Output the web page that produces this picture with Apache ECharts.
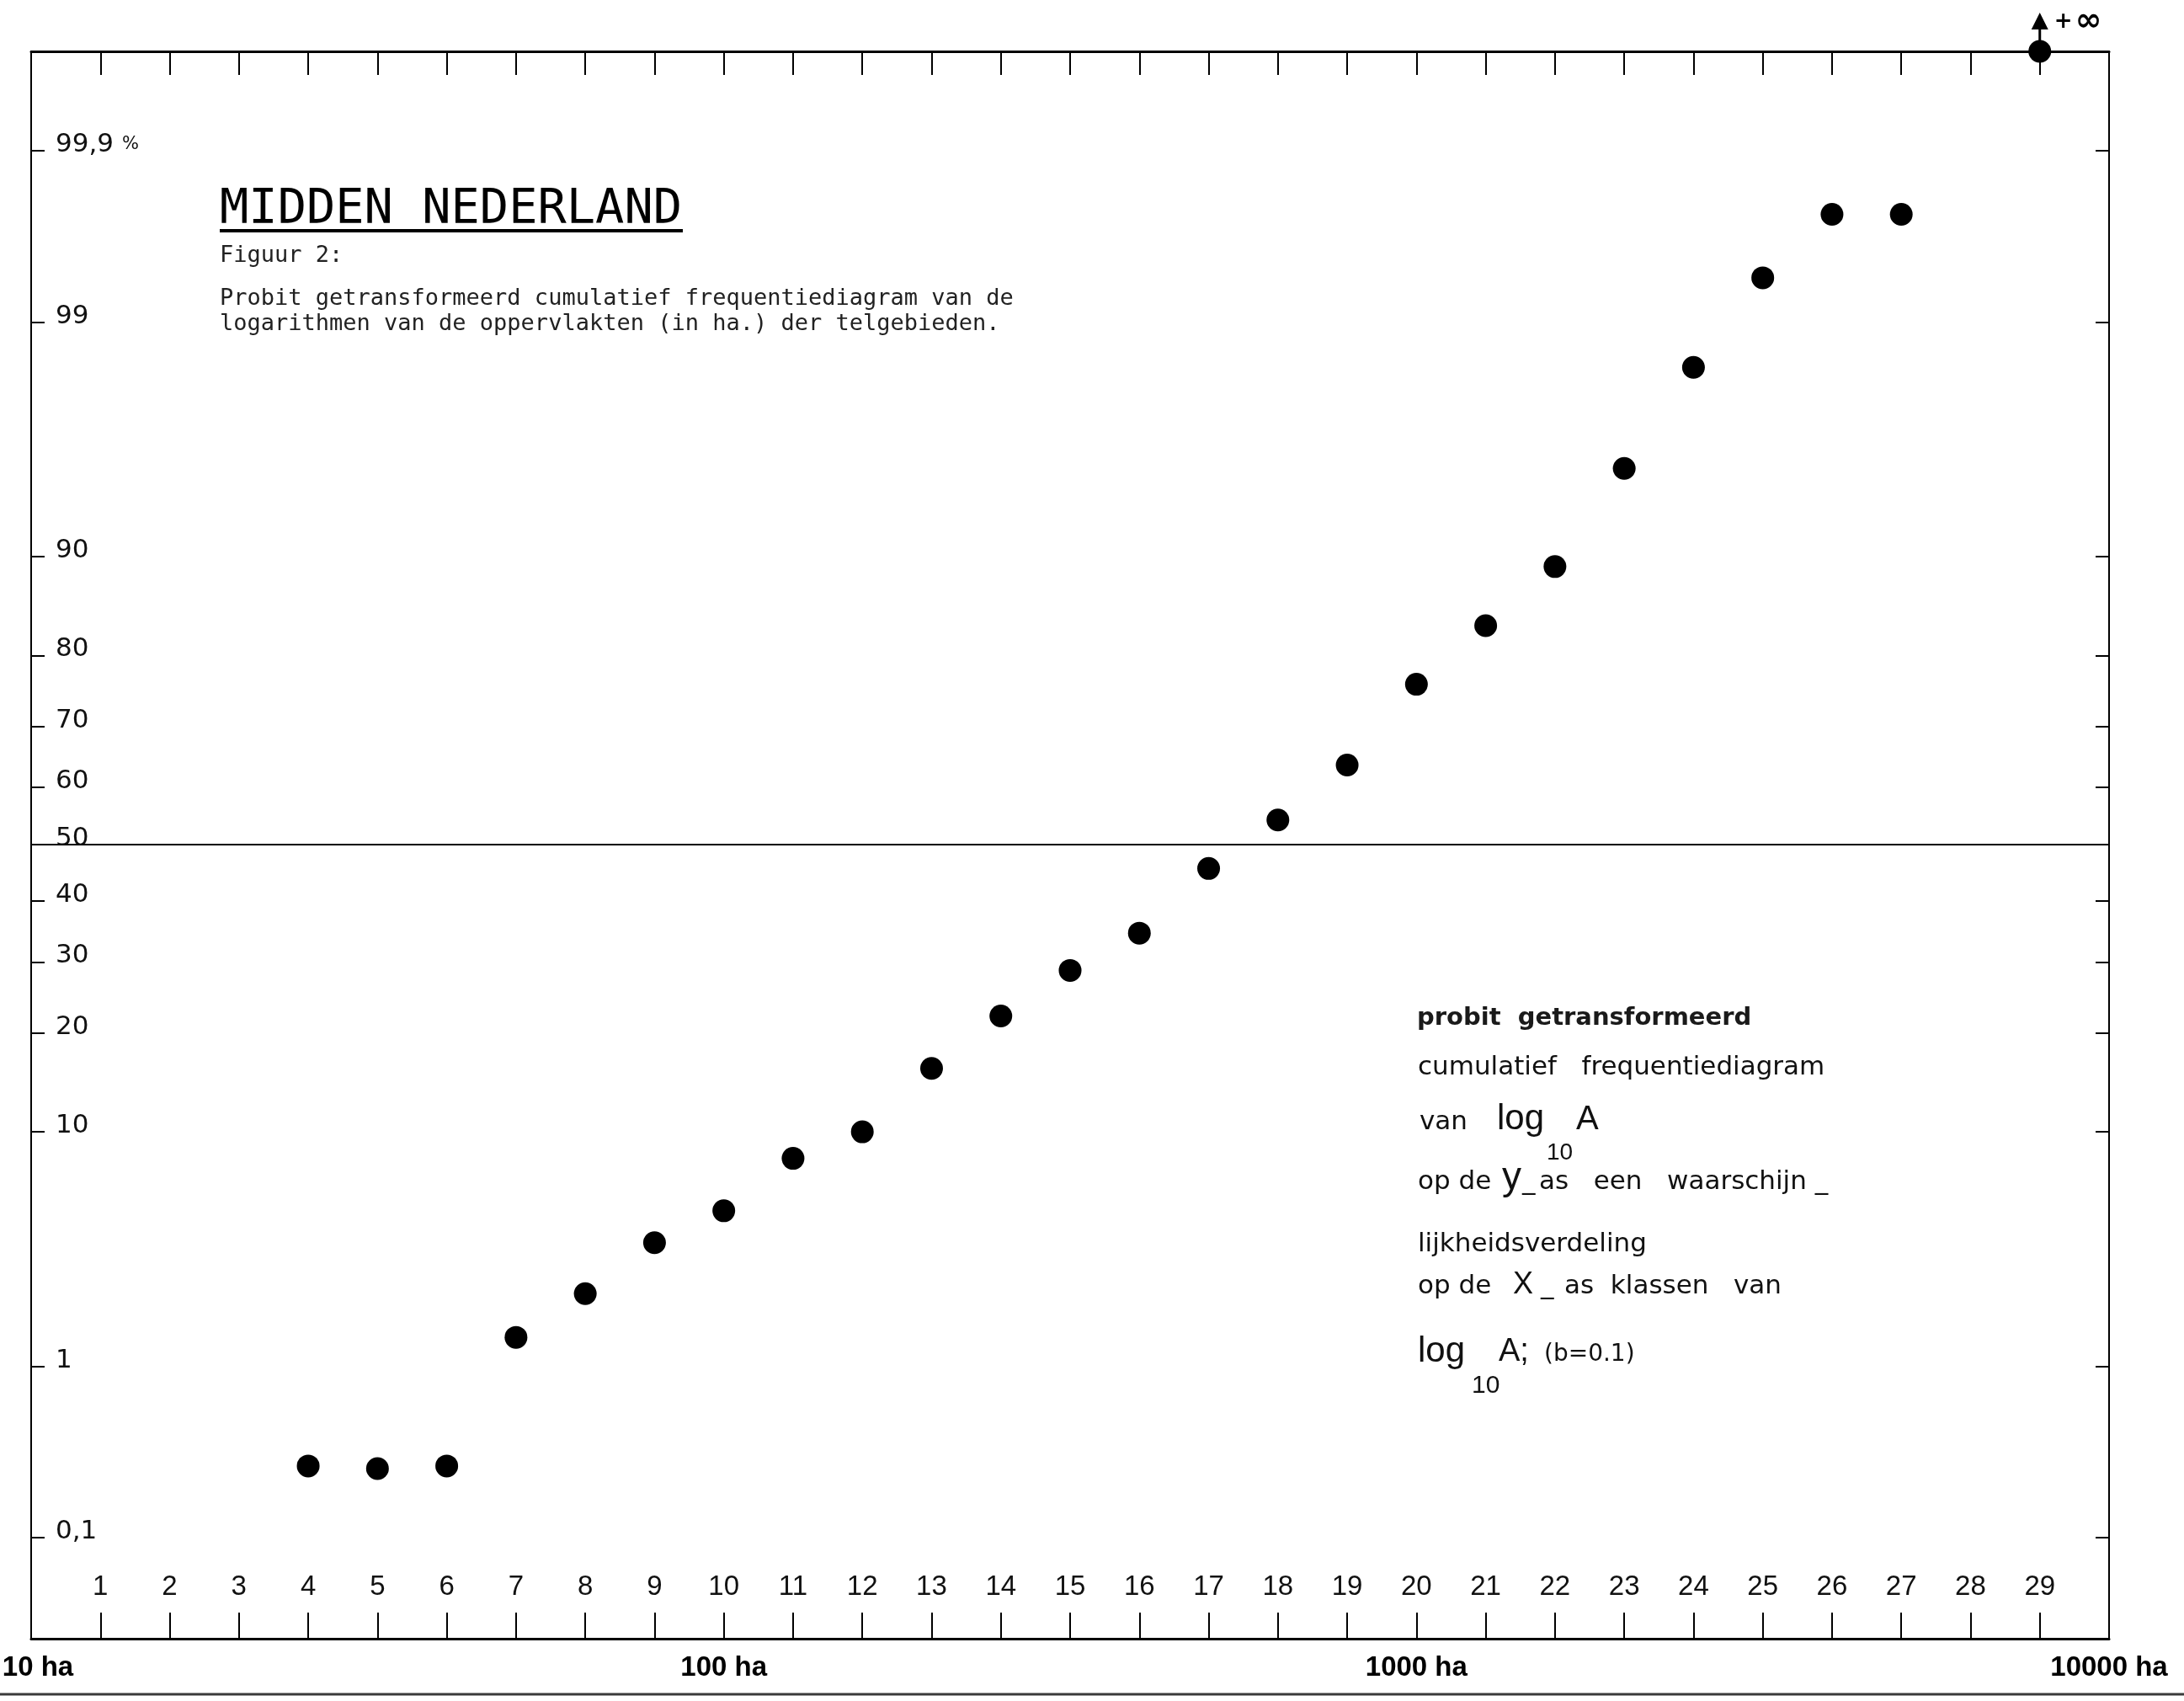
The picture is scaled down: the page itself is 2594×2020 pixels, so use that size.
<!DOCTYPE html>
<html>
<head>
<meta charset="utf-8">
<script src="https://cdn.jsdelivr.net/npm/echarts@6/dist/echarts.min.js"></script>
<style>
  html, body { margin: 0; padding: 0; background: #ffffff; }
  #chart { width: 2594px; height: 2020px; }
</style>
</head>
<body>
<div id="chart"></div>
<script>
// Klassen van log10(A) met klassebreedte b = 0.1 (klasse k: log10 A = 1 + 0.1·k)
const klassen = [4, 5, 6, 7, 8, 9, 10, 11, 12, 13, 14, 15, 16, 17, 18, 19, 20, 21, 22, 23, 24, 25, 26, 27, 29];
// Cumulatieve frequentie (%) per klasse; 100 % ligt op +∞ van de probitschaal
const cumPct = [0.28, 0.27, 0.28, 1.40, 2.26, 3.79, 5.12, 8.08, 10.0, 15.9, 22.2, 28.7, 34.6, 45.7,
                54.3, 63.8, 76.2, 83.5, 89.2, 95.3, 98.32, 99.42, 99.75, 99.75, 100];

// Waarschijnlijkheidsverdeling op de y-as
const yTickPct = [0.1, 1, 10, 20, 30, 40, 50, 60, 70, 80, 90, 99, 99.9];
const yTickLabels = ['0,1', '1', '10', '20', '30', '40', '50', '60', '70', '80', '90', '99', '{n|99,9} {s|%}'];

// Klassennummers langs de x-as
const xKlasseTicks = [1, 2, 3, 4, 5, 6, 7, 8, 9, 10, 11, 12, 13, 14, 15, 16, 17, 18, 19, 20,
                      21, 22, 23, 24, 25, 26, 27, 28, 29];
// Decaden van de oppervlakte
const haTicks = [0, 10, 20, 30];
const haLabels = ['{f|10 ha}', '100 ha', '1000 ha', '10000 ha'];

// Grenzen van de assen (probit-eenheden, klassen)
const Y_MIN = -3.540, Y_MAX = 3.533;
const X_MIN = 0, X_MAX = 30;

// Inverse van de standaardnormale verdeling (Acklam)
function probit(p) {
  if (p <= 0) return -Infinity;
  if (p >= 1) return Infinity;
  const a = [-3.969683028665376e+01, 2.209460984245205e+02, -2.759285104469687e+02, 1.383577518672690e+02, -3.066479806614716e+01, 2.506628277459239e+00];
  const b = [-5.447609879822406e+01, 1.615858368580409e+02, -1.556989798598866e+02, 6.680131188771972e+01, -1.328068155288572e+01];
  const c = [-7.784894002430293e-03, -3.223964580411365e-01, -2.400758277161838e+00, -2.549732539343734e+00, 4.374664141464968e+00, 2.938163982698783e+00];
  const d = [7.784695709041462e-03, 3.224671290700398e-01, 2.445134137142996e+00, 3.754408661907416e+00];
  const pl = 0.02425, ph = 1 - pl;
  let q, r;
  if (p < pl) {
    q = Math.sqrt(-2 * Math.log(p));
    return (((((c[0]*q + c[1])*q + c[2])*q + c[3])*q + c[4])*q + c[5]) / ((((d[0]*q + d[1])*q + d[2])*q + d[3])*q + 1);
  }
  if (p <= ph) {
    q = p - 0.5; r = q * q;
    return (((((a[0]*r + a[1])*r + a[2])*r + a[3])*r + a[4])*r + a[5])*q / (((((b[0]*r + b[1])*r + b[2])*r + b[3])*r + b[4])*r + 1);
  }
  q = Math.sqrt(-2 * Math.log(1 - p));
  return -(((((c[0]*q + c[1])*q + c[2])*q + c[3])*q + c[4])*q + c[5]) / ((((d[0]*q + d[1])*q + d[2])*q + d[3])*q + 1);
}

const yTickVals = yTickPct.map(p => probit(p / 100));

function yLabel(v) {
  let best = 0;
  for (let i = 1; i < yTickVals.length; i++) {
    if (Math.abs(yTickVals[i] - v) < Math.abs(yTickVals[best] - v)) best = i;
  }
  return yTickLabels[best];
}

// Eindige punten en het punt op +∞
const finitePts = [], infPts = [];
klassen.forEach((k, i) => {
  const z = probit(cumPct[i] / 100);
  if (isFinite(z)) finitePts.push([k, z]);
  else infPts.push([k, Y_MAX]);
});

const INK = '#000000';
const FONT_DIGIT = "'Liberation Sans Narrow', 'Liberation Sans', Arial, sans-serif";
const FONT_WIDE = "'DejaVu Sans', sans-serif";
const FONT_HELV = "'Liberation Sans', Arial, sans-serif";
const FONT_MONO = "'DejaVu Sans Mono', monospace";

function txt(text, x, y, size, family, weight, color) {
  return {
    type: 'text', x: x, y: y, silent: true,
    style: {
      text: text, fontSize: size, fontFamily: family, fontWeight: weight || 'normal',
      fill: color || '#111', align: 'left', verticalAlign: 'middle'
    }
  };
}

const chart = echarts.init(document.getElementById('chart'), null, { renderer: 'canvas' });

const option = {
  backgroundColor: '#ffffff',
  animation: false,
  title: {
    text: 'MIDDEN NEDERLAND',
    left: 261, top: 220, padding: 0,
    textStyle: { fontFamily: FONT_MONO, fontSize: 57, fontWeight: 'normal', lineHeight: 60, color: INK }
  },
  grid: { left: 37, right: 89, top: 61, bottom: 74, containLabel: false, outerBoundsMode: 'none' },
  xAxis: [
    {
      type: 'value', position: 'bottom', min: X_MIN, max: X_MAX,
      axisLine: { show: true, onZero: false, lineStyle: { color: INK, width: 3 } },
      axisTick: { show: true, inside: true, length: 31, customValues: xKlasseTicks, lineStyle: { color: INK, width: 2 } },
      axisLabel: { show: true, inside: true, margin: 45, customValues: xKlasseTicks,
                   fontFamily: FONT_DIGIT, fontSize: 33, color: '#111' },
      splitLine: { show: false }
    },
    {
      type: 'value', position: 'bottom', min: X_MIN, max: X_MAX,
      axisLine: { show: false, onZero: false },
      axisTick: { show: false },
      axisLabel: { show: true, margin: 18, customValues: haTicks, showMinLabel: true, showMaxLabel: true,
                   formatter: v => haLabels[haTicks.indexOf(Math.round(v))],
                   fontFamily: FONT_DIGIT, fontSize: 33, fontWeight: 'bold', color: INK,
                   rich: { f: { fontFamily: FONT_DIGIT, fontSize: 33, fontWeight: 'bold', color: INK, padding: [0, 0, 0, 16] } } },
      splitLine: { show: false }
    },
    {
      type: 'value', position: 'top', min: X_MIN, max: X_MAX,
      axisLine: { show: true, onZero: false, lineStyle: { color: INK, width: 3 } },
      axisTick: { show: true, inside: true, length: 28, customValues: xKlasseTicks, lineStyle: { color: INK, width: 2 } },
      axisLabel: { show: false },
      splitLine: { show: false }
    }
  ],
  yAxis: [
    {
      type: 'value', position: 'left', min: Y_MIN, max: Y_MAX,
      axisLine: { show: true, onZero: false, lineStyle: { color: INK, width: 2 } },
      axisTick: { show: true, inside: true, length: 16, customValues: yTickVals, lineStyle: { color: INK, width: 2 } },
      axisLabel: {
        show: true, inside: true, margin: 29, customValues: yTickVals,
        formatter: yLabel, fontFamily: FONT_WIDE, fontSize: 31, color: '#111',
        padding: [0, 0, 14, 0],
        rich: {
          n: { fontFamily: FONT_WIDE, fontSize: 31, color: '#111' },
          s: { fontFamily: FONT_WIDE, fontSize: 21, color: '#111' }
        }
      },
      splitLine: { show: false }
    },
    {
      type: 'value', position: 'right', min: Y_MIN, max: Y_MAX,
      axisLine: { show: true, onZero: false, lineStyle: { color: INK, width: 2 } },
      axisTick: { show: true, inside: true, length: 16, customValues: yTickVals, lineStyle: { color: INK, width: 2 } },
      axisLabel: { show: false },
      splitLine: { show: false }
    }
  ],
  series: [
    {
      name: 'cumulatief',
      type: 'scatter',
      xAxisIndex: 0, yAxisIndex: 0,
      data: finitePts,
      symbol: 'circle', symbolSize: 27,
      itemStyle: { color: INK, opacity: 1 },
      clip: false,
      markLine: {
        silent: true, symbol: 'none', animation: false,
        label: { show: false },
        lineStyle: { color: INK, width: 2, type: 'solid', opacity: 1 },
        data: [{ yAxis: probit(0.5) }]
      }
    },
    {
      name: 'oneindig',
      type: 'scatter',
      xAxisIndex: 0, yAxisIndex: 0,
      data: infPts,
      symbol: 'circle', symbolSize: 27,
      itemStyle: { color: INK, opacity: 1 },
      clip: false,
      z: 3
    },
    {
      name: 'pijl',
      type: 'scatter',
      xAxisIndex: 0, yAxisIndex: 0,
      data: infPts,
      symbol: 'path://M10,0 L20,20 L11.5,20 L11.5,46 L8.5,46 L8.5,20 L0,20 Z',
      symbolSize: [20, 46], symbolOffset: [0, -23],
      itemStyle: { color: INK, opacity: 1 },
      clip: false,
      z: 3,
      label: {
        show: true, position: 'right', distance: 7, offset: [0, -12],
        formatter: '{p|+} {i|∞}',
        rich: {
          p: { fontFamily: FONT_WIDE, fontSize: 26, fontWeight: 'bold', color: INK },
          i: { fontFamily: FONT_WIDE, fontSize: 38, fontWeight: 'bold', color: INK }
        }
      }
    }
  ],
  graphic: [
    // onderstreping van de titel
    { type: 'line', silent: true, shape: { x1: 261, y1: 274, x2: 811, y2: 274 }, style: { stroke: INK, lineWidth: 4 } },
    txt('Figuur 2:', 261, 304, 27, FONT_MONO, 'normal', '#222'),
    txt('Probit getransformeerd cumulatief frequentiediagram van de', 261, 355, 27, FONT_MONO, 'normal', '#222'),
    txt('logarithmen van de oppervlakten (in ha.) der telgebieden.', 261, 385, 27, FONT_MONO, 'normal', '#222'),

    // toelichting rechtsonder
    txt('probit  getransformeerd', 1683, 1209, 29, FONT_WIDE, 'bold', '#1a1a1a'),
    txt('cumulatief   frequentiediagram', 1684, 1268, 31, FONT_WIDE),
    txt('van', 1686, 1333, 31, FONT_WIDE),
    txt('log', 1778, 1329, 42, FONT_HELV),
    txt('10', 1837, 1369, 28, FONT_HELV),
    txt('A', 1872, 1330, 40, FONT_HELV),
    txt('op de', 1684, 1404, 31, FONT_WIDE),
    txt('y', 1784, 1399, 46, FONT_HELV),
    txt('_', 1808, 1404, 31, FONT_WIDE),
    txt('as   een   waarschijn _', 1828, 1404, 31, FONT_WIDE),
    txt('lijkheidsverdeling', 1684, 1478, 31, FONT_WIDE),
    txt('op de', 1684, 1528, 31, FONT_WIDE),
    txt('X', 1797, 1526, 36, FONT_HELV),
    txt('_', 1830, 1528, 31, FONT_WIDE),
    txt('as  klassen   van', 1858, 1528, 31, FONT_WIDE),
    txt('log', 1684, 1605, 42, FONT_HELV),
    txt('10', 1748, 1646, 30, FONT_HELV),
    txt('A;', 1780, 1606, 38, FONT_HELV),
    txt('(b=0.1)', 1834, 1609, 28, FONT_WIDE),

    // rand van het blad
    { type: 'line', silent: true, shape: { x1: 0, y1: 2012, x2: 2594, y2: 2012 }, style: { stroke: '#3a3a3a', lineWidth: 3 } }
  ]
};

chart.setOption(option);
</script>
</body>
</html>
